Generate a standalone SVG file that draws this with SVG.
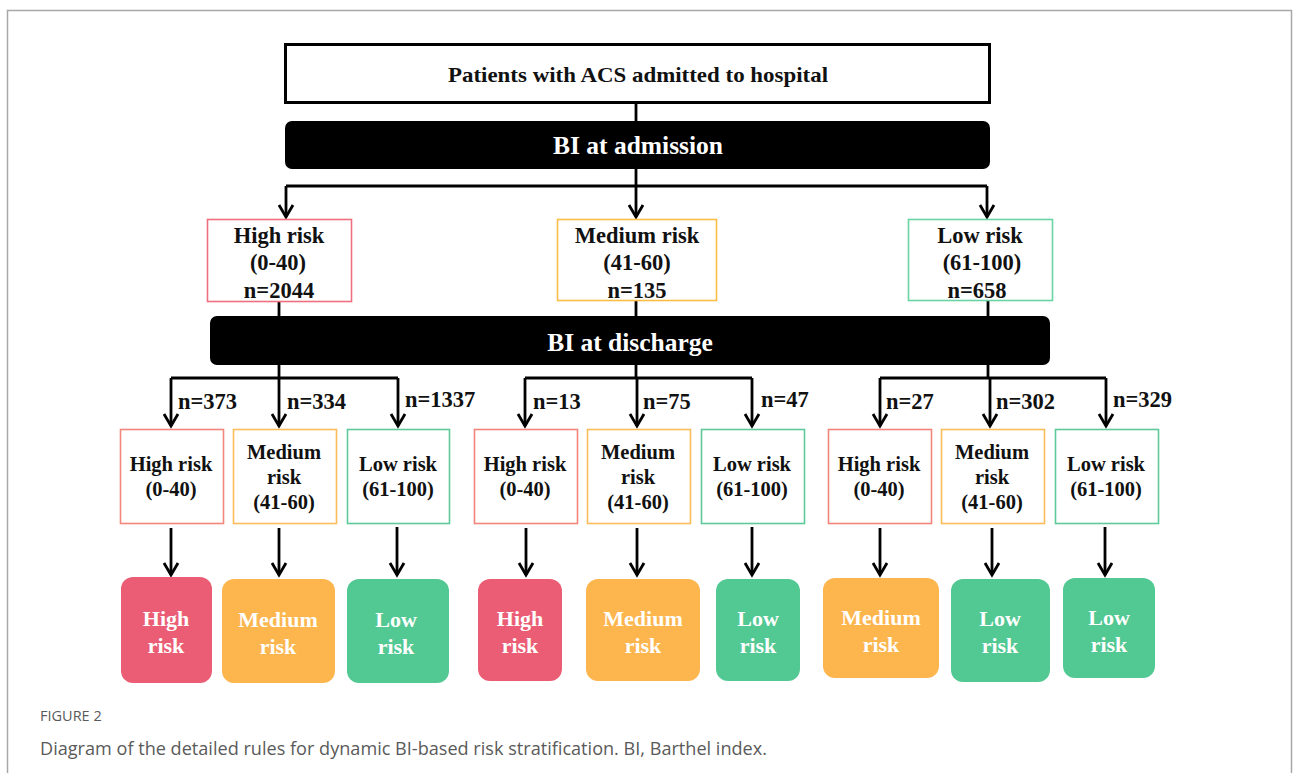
<svg xmlns="http://www.w3.org/2000/svg" width="1293" height="773" viewBox="0 0 1293 773">
<defs>
<marker id="arr" viewBox="-2 -2 18 18" refX="12" refY="7" markerWidth="18" markerHeight="18" markerUnits="userSpaceOnUse" orient="auto" overflow="visible">
<path d="M0,0 L12,7 L0,14" fill="none" stroke="#000" stroke-width="2.8"/>
</marker>
<style>
.t{font-family:"Liberation Serif","Times New Roman",serif;font-weight:bold;text-anchor:middle;fill:#111}
.s{text-anchor:start}
.w{fill:#fff}
.c{stroke:#000;stroke-width:2.8;fill:none}
.a{stroke:#000;stroke-width:2.8;fill:none;marker-end:url(#arr)}
.bw{fill:#fff;stroke-width:1.6}
.r{stroke:#ee6f7e}.o{stroke:#fbbd45}.g{stroke:#68d3a3}
.r3{stroke:#f2867a}.o3{stroke:#fbbd5c}.g3{stroke:#5ec99a}
.fr{fill:#ea5d74}.fo{fill:#fdb54e}.fg{fill:#52c893}
.cap{font-family:"Open Sans","Lato",sans-serif;fill:#5a5a5a}
.l2{font-size:22.5px}
.l3{font-size:20.5px}
.n{font-size:22.5px}
</style>
</defs>
<rect x="0" y="0" width="1293" height="773" fill="#fff"/>
<path d="M7.5,773 V10.5 H1291.5 V773" fill="none" stroke="#a8a8a8" stroke-width="1.5"/>

<g id="connectors">
<line class="c" x1="636" y1="103" x2="636" y2="121"/>
<line class="c" x1="636" y1="169" x2="636" y2="186"/>
<line class="c" x1="286" y1="186" x2="987" y2="186"/>
<line class="a" x1="286" y1="186" x2="286" y2="217"/>
<line class="a" x1="636" y1="186" x2="636" y2="217"/>
<line class="a" x1="987" y1="186" x2="987" y2="217"/>
<line class="c" x1="279" y1="302" x2="279" y2="316"/>
<line class="c" x1="636" y1="300" x2="636" y2="316"/>
<line class="c" x1="988" y1="300" x2="988" y2="316"/>
<line class="c" x1="279" y1="365" x2="279" y2="378"/>
<line class="c" x1="171" y1="378" x2="398" y2="378"/>
<line class="a" x1="171" y1="378" x2="171" y2="426"/>
<line class="a" x1="279" y1="378" x2="279" y2="426"/>
<line class="a" x1="398" y1="378" x2="398" y2="426"/>
<line class="c" x1="636" y1="365" x2="636" y2="378"/>
<line class="c" x1="525" y1="378" x2="752" y2="378"/>
<line class="a" x1="525" y1="378" x2="525" y2="426"/>
<line class="a" x1="637" y1="378" x2="637" y2="426"/>
<line class="a" x1="752" y1="378" x2="752" y2="426"/>
<line class="c" x1="988" y1="365" x2="988" y2="378"/>
<line class="c" x1="880" y1="378" x2="1106" y2="378"/>
<line class="a" x1="880" y1="378" x2="880" y2="426"/>
<line class="a" x1="990" y1="378" x2="990" y2="426"/>
<line class="a" x1="1106" y1="378" x2="1106" y2="426"/>
<line class="a" x1="171" y1="528" x2="171" y2="575"/>
<line class="a" x1="279" y1="528" x2="279" y2="575"/>
<line class="a" x1="397" y1="527" x2="397" y2="575"/>
<line class="a" x1="526" y1="528" x2="526" y2="575"/>
<line class="a" x1="637" y1="528" x2="637" y2="575"/>
<line class="a" x1="752" y1="527" x2="752" y2="575"/>
<line class="a" x1="880" y1="528" x2="880" y2="575"/>
<line class="a" x1="992" y1="528" x2="992" y2="575"/>
<line class="a" x1="1105" y1="527" x2="1105" y2="575"/>
</g>

<g id="labels">
<text class="t s n" x="178" y="409">n=373</text>
<text class="t s n" x="287" y="409">n=334</text>
<text class="t s n" x="405" y="407">n=1337</text>
<text class="t s n" x="533" y="409">n=13</text>
<text class="t s n" x="643" y="409">n=75</text>
<text class="t s n" x="761" y="407">n=47</text>
<text class="t s n" x="886" y="409">n=27</text>
<text class="t s n" x="996" y="409">n=302</text>
<text class="t s n" x="1113" y="407">n=329</text>
</g>

<g id="top">
<rect x="285.5" y="44.5" width="704" height="58" fill="#fff" stroke="#000" stroke-width="3"/>
<text class="t" x="638" y="82" font-size="21" textLength="380" lengthAdjust="spacingAndGlyphs">Patients with ACS admitted  to hospital</text>
</g>
<g id="admission">
<rect x="285" y="121" width="705" height="48" rx="7" fill="#000"/>
<text class="t w" x="638" y="154" font-size="25.5">BI at admission</text>
</g>

<g id="l2-high">
<rect class="bw r" x="207.5" y="219.5" width="144" height="82"/>
<text class="t l2" x="279" y="243">High  risk</text>
<text class="t l2" x="278" y="270">(0-40)</text>
<text class="t l2" x="279" y="298">n=2044</text>
</g>
<g id="l2-medium">
<rect class="bw o" x="557.5" y="219.5" width="159" height="81"/>
<text class="t l2" x="637" y="243">Medium  risk</text>
<text class="t l2" x="637" y="270">(41-60)</text>
<text class="t l2" x="637" y="298">n=135</text>
</g>
<g id="l2-low">
<rect class="bw g" x="908.5" y="219.5" width="144" height="81"/>
<text class="t l2" x="980" y="243">Low risk</text>
<text class="t l2" x="982" y="270">(61-100)</text>
<text class="t l2" x="977" y="298">n=658</text>
</g>

<g id="discharge">
<rect x="210" y="316" width="840" height="49" rx="7" fill="#000"/>
<text class="t w" x="630" y="351" font-size="25.5">BI at discharge</text>
</g>

<g id="g1-high"><rect class="bw r3" x="120.5" y="429.5" width="103" height="94"/>
<text class="t l3" x="171" y="471">High risk</text><text class="t l3" x="171" y="496">(0-40)</text></g>
<g id="g1-medium"><rect class="bw o3" x="233.5" y="429.5" width="103" height="94"/>
<text class="t l3" x="284" y="459">Medium</text><text class="t l3" x="284" y="484">risk</text><text class="t l3" x="284" y="509">(41-60)</text></g>
<g id="g1-low"><rect class="bw g3" x="347.5" y="429.5" width="102" height="94"/>
<text class="t l3" x="398" y="471">Low risk</text><text class="t l3" x="398" y="496">(61-100)</text></g>

<g id="g2-high"><rect class="bw r3" x="474.5" y="429.5" width="103" height="94"/>
<text class="t l3" x="525" y="471">High risk</text><text class="t l3" x="525" y="496">(0-40)</text></g>
<g id="g2-medium"><rect class="bw o3" x="587.5" y="429.5" width="103" height="94"/>
<text class="t l3" x="638" y="459">Medium</text><text class="t l3" x="638" y="484">risk</text><text class="t l3" x="638" y="509">(41-60)</text></g>
<g id="g2-low"><rect class="bw g3" x="701.5" y="429.5" width="103" height="94"/>
<text class="t l3" x="752" y="471">Low risk</text><text class="t l3" x="752" y="496">(61-100)</text></g>

<g id="g3-high"><rect class="bw r3" x="828.5" y="429.5" width="103" height="94"/>
<text class="t l3" x="879" y="471">High risk</text><text class="t l3" x="879" y="496">(0-40)</text></g>
<g id="g3-medium"><rect class="bw o3" x="941.5" y="429.5" width="103" height="94"/>
<text class="t l3" x="992" y="459">Medium</text><text class="t l3" x="992" y="484">risk</text><text class="t l3" x="992" y="509">(41-60)</text></g>
<g id="g3-low"><rect class="bw g3" x="1055.5" y="429.5" width="103" height="94"/>
<text class="t l3" x="1106" y="471">Low risk</text><text class="t l3" x="1106" y="496">(61-100)</text></g>

<g id="r1-high"><rect class="fr" x="121" y="577" width="91" height="106" rx="12"/>
<text class="t w" x="166" y="626" font-size="22">High</text><text class="t w" x="166" y="653" font-size="22">risk</text></g>
<g id="r1-medium"><rect class="fo" x="222" y="579" width="113" height="104" rx="12"/>
<text class="t w" x="278" y="627" font-size="22">Medium</text><text class="t w" x="278" y="654" font-size="22">risk</text></g>
<g id="r1-low"><rect class="fg" x="347" y="579" width="102" height="104" rx="12"/>
<text class="t w" x="396" y="627" font-size="22">Low</text><text class="t w" x="396" y="654" font-size="22">risk</text></g>

<g id="r2-high"><rect class="fr" x="478" y="579" width="84" height="102" rx="12"/>
<text class="t w" x="520" y="626" font-size="22">High</text><text class="t w" x="520" y="653" font-size="22">risk</text></g>
<g id="r2-medium"><rect class="fo" x="586" y="579" width="114" height="102" rx="12"/>
<text class="t w" x="643" y="626" font-size="22">Medium</text><text class="t w" x="643" y="653" font-size="22">risk</text></g>
<g id="r2-low"><rect class="fg" x="716" y="579" width="84" height="102" rx="12"/>
<text class="t w" x="758" y="626" font-size="22">Low</text><text class="t w" x="758" y="653" font-size="22">risk</text></g>

<g id="r3-medium"><rect class="fo" x="823" y="578" width="116" height="100" rx="12"/>
<text class="t w" x="881" y="625" font-size="22">Medium</text><text class="t w" x="881" y="652" font-size="22">risk</text></g>
<g id="r3-low1"><rect class="fg" x="951" y="579" width="99" height="103" rx="12"/>
<text class="t w" x="1000" y="626" font-size="22">Low</text><text class="t w" x="1000" y="653" font-size="22">risk</text></g>
<g id="r3-low2"><rect class="fg" x="1063" y="578" width="92" height="100" rx="12"/>
<text class="t w" x="1109" y="625" font-size="22">Low</text><text class="t w" x="1109" y="652" font-size="22">risk</text></g>

<g id="caption">
<text class="cap" x="40" y="721" font-size="14.5">FIGURE 2</text>
<text class="cap" x="40" y="755" font-size="17.5" textLength="727" lengthAdjust="spacingAndGlyphs">Diagram of the detailed rules for dynamic BI-based risk stratification. BI, Barthel index.</text>
</g>
</svg>
